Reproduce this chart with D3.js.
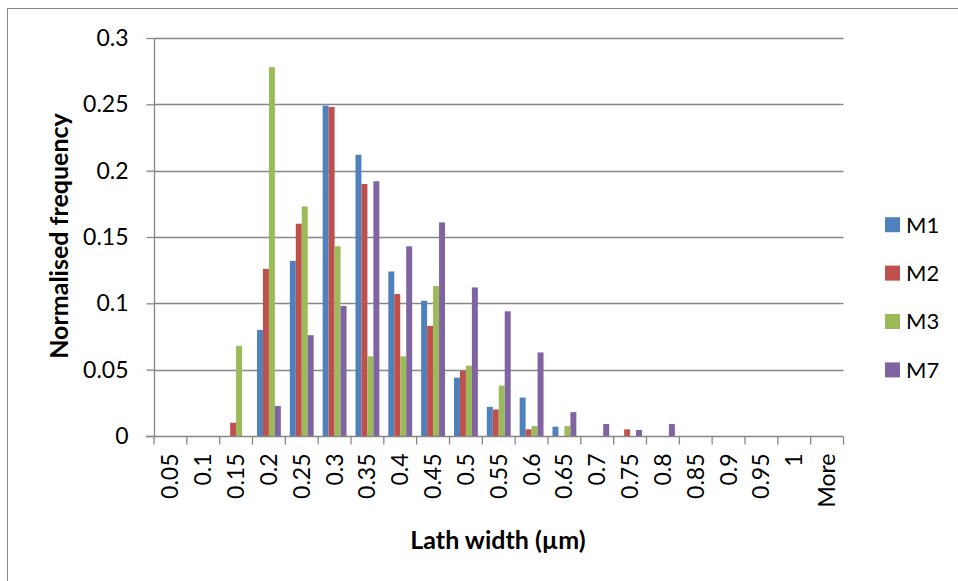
<!DOCTYPE html>
<html>
<head>
<meta charset="utf-8">
<script src="https://cdn.jsdelivr.net/npm/d3@7/dist/d3.min.js"></script>
<style>
  html, body { margin: 0; padding: 0; background: #fff; }
  svg { display: block; font-family: Lato, "Open Sans", sans-serif; }
</style>
</head>
<body>
<svg id="chart" width="958" height="581"></svg>
<script>
// Lath width bins (µm)
const categories = ["0.05", "0.1", "0.15", "0.2", "0.25", "0.3", "0.35", "0.4", "0.45", "0.5",
  "0.55", "0.6", "0.65", "0.7", "0.75", "0.8", "0.85", "0.9", "0.95", "1", "More"];

// Normalised frequency per bin for each material
const seriesNames = ["M1", "M2", "M3", "M7"];
const m1 = [0, 0, 0, 0.080, 0.132, 0.249, 0.212, 0.124, 0.102, 0.044, 0.022, 0.029, 0.007, 0, 0, 0, 0, 0, 0, 0, 0];
const m2 = [0, 0, 0.010, 0.126, 0.160, 0.248, 0.190, 0.107, 0.083, 0.049, 0.020, 0.005, 0, 0, 0.005, 0, 0, 0, 0, 0, 0];
const m3 = [0, 0, 0.068, 0.278, 0.173, 0.143, 0.060, 0.060, 0.113, 0.053, 0.038, 0.0075, 0.0075, 0, 0, 0, 0, 0, 0, 0, 0];
const m7 = [0, 0, 0, 0.0226, 0.076, 0.098, 0.192, 0.143, 0.161, 0.112, 0.094, 0.063, 0.018, 0.009, 0.0045, 0.009, 0, 0, 0, 0, 0];
const seriesValues = [m1, m2, m3, m7];
const colors = ["#4F81BD", "#C0504D", "#9BBB59", "#8064A2"];

const yTicks = [0, 0.05, 0.1, 0.15, 0.2, 0.25, 0.3];
const yTickLabels = ["0", "0.05", "0.1", "0.15", "0.2", "0.25", "0.3"];

const svg = d3.select("#chart");
const grey = "#868686";

// outer chart frame
svg.append("rect")
  .attr("x", 7.5).attr("y", 8.5)
  .attr("width", 1000).attr("height", 1000)
  .attr("fill", "none").attr("stroke", grey).attr("stroke-width", 1);

const plot = { left: 154, right: 843.5, top: 38, bottom: 436 };

const x0 = d3.scaleBand().domain(categories).range([plot.left, plot.right]).padding(0);
const cw = x0.bandwidth();
const barW = cw / 5.5;
const x1 = d3.scaleBand().domain(seriesNames)
  .range([(cw - 4 * barW) / 2, (cw + 4 * barW) / 2]).padding(0);
const y = d3.scaleLinear().domain([0, 0.3]).range([plot.bottom, plot.top]);

// horizontal gridlines
svg.append("g")
  .selectAll("line")
  .data(yTicks.filter(d => d > 0))
  .join("line")
  .attr("x1", plot.left).attr("x2", plot.right)
  .attr("y1", d => Math.round(y(d)) + 0.5).attr("y2", d => Math.round(y(d)) + 0.5)
  .attr("stroke", grey).attr("stroke-width", 1.3);

// bars
const groups = svg.append("g")
  .selectAll("g")
  .data(seriesNames)
  .join("g")
  .attr("fill", (d, i) => colors[i]);

groups.selectAll("rect")
  .data((s, i) => categories.map((c, j) => ({ c, s, v: seriesValues[i][j] })).filter(d => d.v > 0))
  .join("rect")
  .attr("x", d => x0(d.c) + x1(d.s))
  .attr("width", barW)
  .attr("y", d => y(d.v))
  .attr("height", d => y(0) - y(d.v));

// y axis
const yAxis = d3.axisLeft(y)
  .tickValues(yTicks)
  .tickFormat((d, i) => yTickLabels[i])
  .tickSize(8)
  .tickPadding(18);
const gy = svg.append("g")
  .attr("transform", `translate(${plot.left + 0.5},0)`)
  .call(yAxis);
gy.select(".domain").attr("stroke", grey).attr("stroke-width", 1.3).attr("d", `M0,${plot.top}V${plot.bottom}`);
gy.selectAll(".tick line").attr("stroke", grey).attr("stroke-width", 1.3);
gy.selectAll(".tick text")
  .attr("fill", "#000").attr("font-size", 23).attr("font-family", "Lato, sans-serif");

// x axis: ticks sit on the category boundaries
const xAxisG = svg.append("g").attr("transform", `translate(0,${plot.bottom + 0.5})`);
xAxisG.append("line")
  .attr("x1", plot.left - 8).attr("x2", plot.right)
  .attr("stroke", grey).attr("stroke-width", 1.3);
const boundaries = categories.map(c => x0(c)).concat([plot.right]);
xAxisG.selectAll("line.tk")
  .data(boundaries)
  .join("line")
  .attr("class", "tk")
  .attr("x1", d => d).attr("x2", d => d)
  .attr("y1", 0).attr("y2", 8)
  .attr("stroke", grey).attr("stroke-width", 1.3);
xAxisG.selectAll("text")
  .data(categories)
  .join("text")
  .attr("transform", d => `translate(${x0(d) + cw / 2},17) rotate(-90)`)
  .attr("text-anchor", "end")
  .attr("dy", "0.35em")
  .attr("font-size", 23)
  .attr("fill", "#000")
  .text(d => d);

// axis titles
svg.append("text")
  .attr("x", 498).attr("y", 549)
  .attr("text-anchor", "middle")
  .attr("font-size", 25).attr("font-weight", "bold")
  .text("Lath width (µm)");

svg.append("text")
  .attr("transform", "translate(68,236) rotate(-90)")
  .attr("text-anchor", "middle")
  .attr("font-size", 25).attr("font-weight", "bold")
  .text("Normalised frequency");

// legend
const legend = svg.append("g")
  .selectAll("g")
  .data(seriesNames)
  .join("g")
  .attr("transform", (d, i) => `translate(885,${224.7 + i * 48.4})`);
legend.append("rect")
  .attr("x", 0).attr("y", -7.5)
  .attr("width", 15).attr("height", 15)
  .attr("fill", (d, i) => colors[i]);
legend.append("text")
  .attr("x", 21).attr("dy", "0.36em")
  .attr("font-size", 22).attr("fill", "#000")
  .text(d => d);
</script>
</body>
</html>
